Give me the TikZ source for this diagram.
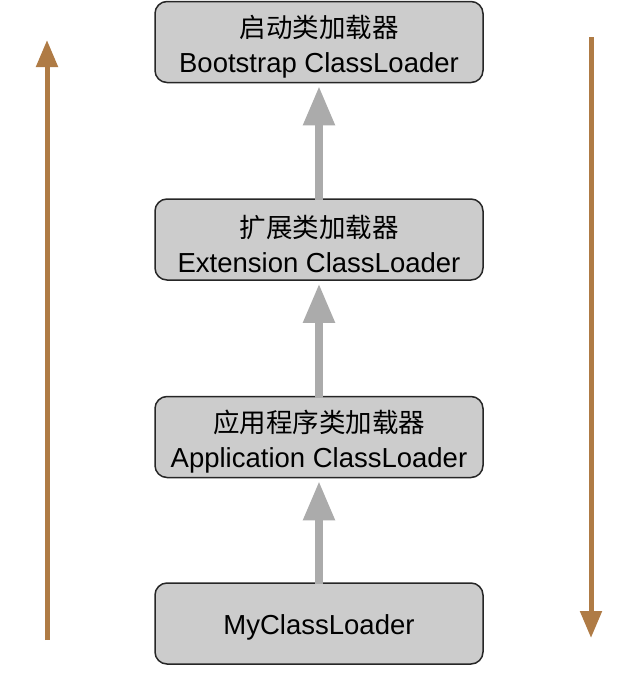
\documentclass[tikz,border=0pt]{standalone}
\usepackage{fontspec}
\setmainfont{Liberation Sans}
\newfontfamily\cjk{Noto Sans CJK SC}
\usetikzlibrary{arrows.meta, positioning}
\definecolor{boxgray}{HTML}{CCCCCC}
\definecolor{arrowgray}{HTML}{ABABAB}
\definecolor{flowbrown}{HTML}{AF7B45}
\newcommand{\zhline}[1]{\rule{0pt}{31pt}{\cjk\fontsize{26.5}{35}\selectfont #1}}

\begin{document}
\begin{tikzpicture}[x=1pt, y=-1pt,
                loader/.style={rectangle, draw=black!85, fill=boxgray, line width=1.5pt, minimum width=328pt, minimum height=81pt, align=center, rounded corners=12pt, font=\fontsize{27.5}{35}\selectfont},
                parent/.style={-{Triangle[width=30pt, length=39pt]}, line width=8pt, draw=arrowgray, shorten >=3pt},
                flow/.style={-{Triangle[width=21pt, length=27pt]}, line width=5pt, draw=flowbrown}]

    \useasboundingbox (0,0) rectangle (638,678);

    \node[loader] (boot) at (319,42) {\zhline{启动类加载器}\\Bootstrap ClassLoader};
    \node[loader, below=115pt of boot] (ext) {\zhline{扩展类加载器}\\Extension ClassLoader};
    \node[loader, below=115pt of ext] (app) {\zhline{应用程序类加载器}\\Application ClassLoader};
    \node[loader, below=104pt of app] (my) {\rule{0pt}{28pt}MyClassLoader};

    % delegation arrows
    \draw[parent] ([yshift=-2pt]my.north) -- (app.south);
    \draw[parent] ([yshift=-2pt]app.north) -- (ext.south);
    \draw[parent] ([yshift=-2pt]ext.north) -- (boot.south);

    % side arrows
    \coordinate (upStart) at (47,640);
    \coordinate (upEnd) at (47,40);
    \coordinate (downStart) at (591,37);
    \coordinate (downEnd) at (591,638);
    \draw[flow] (upStart) -- (upEnd);
    \draw[flow] (downStart) -- (downEnd);

\end{tikzpicture}
\end{document}
